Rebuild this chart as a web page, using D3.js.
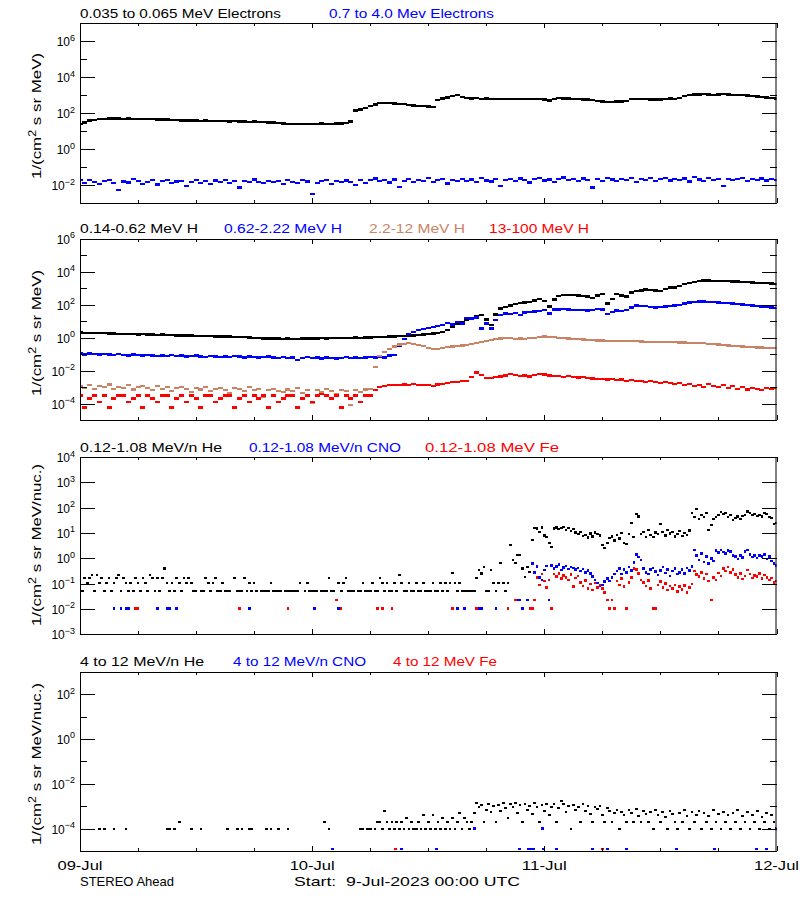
<!DOCTYPE html>
<html><head><meta charset="utf-8">
<script src="https://cdn.jsdelivr.net/npm/d3@7"></script>
<style>body{margin:0;background:#fff}text{font-family:"Liberation Sans",Arial,sans-serif}</style>
</head><body><svg id="c" width="800" height="900"></svg>
<script>
// ---------------- DATA (log10 of flux, 1/(cm2 s sr MeV[/nuc]) ) ----------------
// time axis in hours since 9-Jul-2023 00:00 UTC
const dayLabels = ["09-Jul","10-Jul","11-Jul","12-Jul"];
const stepHalf = 0.5;     // hours between samples of the half-hour series
const stepQuarter = 0.25; // hours between samples of the quarter-hour series

// Panel 1: electrons (half-hour samples)
const elecLowLog = [
1.42,1.50,1.60,1.64,1.68,1.70,1.72,1.71,1.72,1.70,
1.71,1.69,1.70,1.68,1.67,1.68,1.66,1.65,1.66,1.63,
1.62,1.61,1.60,1.61,1.59,1.58,1.59,1.57,1.58,1.56,
1.57,1.55,1.56,1.54,1.55,1.53,1.54,1.52,1.52,1.50,
1.48,1.46,1.44,1.42,1.41,1.40,1.41,1.40,1.42,1.41,
1.43,1.41,1.42,1.44,1.43,1.45,1.55,2.15,2.22,2.30,
2.40,2.48,2.56,2.58,2.57,2.55,2.53,2.52,2.47,2.44,
2.42,2.40,2.37,2.35,2.75,2.82,2.88,2.97,3.02,2.92,
2.85,2.83,2.84,2.80,2.82,2.80,2.79,2.80,2.81,2.79,
2.78,2.78,2.79,2.80,2.81,2.80,2.76,2.71,2.80,2.85,
2.83,2.82,2.80,2.78,2.77,2.76,2.73,2.70,2.66,2.63,
2.64,2.66,2.65,2.70,2.78,2.81,2.80,2.78,2.77,2.76,
2.76,2.80,2.82,2.79,2.86,2.95,3.02,3.04,3.05,3.07,
3.05,3.02,3.05,3.06,3.04,3.03,3.02,3.03,3.00,2.97,
2.93,2.90,2.88,2.84,2.82];
const elecHighLog = [
-1.72,-1.86,-1.70,-1.80,-1.93,-1.76,-1.69,-1.88,-2.28,-1.79,
-1.84,-1.67,-1.75,-1.91,-1.80,-1.72,-1.96,-1.78,-1.71,-1.87,
-1.79,-1.74,-2.06,-1.82,-1.70,-1.85,-1.76,-1.93,-1.73,-1.81,
-1.71,-1.88,-1.78,-2.12,-1.75,-1.83,-1.68,-1.80,-1.89,-1.74,
-1.82,-1.77,-1.94,-1.72,-1.81,-1.87,-1.70,-1.79,-2.50,-1.85,
-1.76,-1.69,-1.91,-1.75,-1.83,-1.73,-1.80,-1.99,-1.70,-1.86,
-1.72,-1.62,-1.78,-1.70,-1.84,-1.68,-2.08,-1.74,-1.64,-1.80,
-1.69,-1.75,-1.61,-1.83,-1.72,-1.66,-1.90,-1.71,-1.77,-1.63,
-1.74,-1.68,-1.82,-1.60,-1.73,-1.79,-1.67,-2.02,-1.71,-1.65,
-1.76,-1.62,-1.70,-1.84,-1.66,-1.58,-1.73,-1.68,-1.80,-1.64,
-1.57,-1.71,-1.66,-1.78,-1.62,-1.69,-2.12,-1.65,-1.74,-1.60,
-1.68,-1.76,-1.63,-1.70,-1.59,-1.82,-1.67,-1.72,-1.61,-1.75,
-1.66,-1.58,-1.73,-1.64,-1.70,-1.62,-1.79,-1.56,-1.68,-1.74,
-1.61,-1.69,-1.65,-2.05,-1.63,-1.71,-1.67,-1.60,-1.76,-1.64,
-1.70,-1.62,-1.73,-1.66,-1.69];

// Panel 2: protons (half-hour samples)
const hLowLog = [
0.30,0.28,0.29,0.27,0.26,0.27,0.25,0.24,0.22,0.23,
0.21,0.20,0.19,0.20,0.18,0.17,0.16,0.17,0.15,0.14,
0.13,0.12,0.13,0.11,0.10,0.09,0.10,0.08,0.07,0.06,
0.05,0.06,0.04,0.03,0.02,0.00,-0.02,-0.03,-0.05,-0.06,
-0.05,-0.07,-0.08,-0.06,-0.08,-0.09,-0.07,-0.06,-0.05,-0.06,
-0.04,-0.05,-0.04,-0.03,-0.04,-0.02,-0.03,-0.01,-0.02,0.00,
0.00,0.02,0.03,0.04,0.05,0.06,0.08,0.10,0.12,0.13,
0.15,0.17,0.20,0.24,0.28,0.33,0.45,0.65,0.85,0.92,
1.05,1.20,1.30,1.35,1.10,0.75,1.40,1.75,1.85,1.95,
2.02,2.08,2.12,2.15,2.25,2.35,2.20,1.88,2.30,2.52,
2.56,2.58,2.57,2.55,2.52,2.48,2.38,2.55,2.62,2.05,
2.35,2.62,2.55,2.48,2.72,2.82,2.86,2.90,2.88,2.86,
2.82,2.95,3.02,3.03,3.12,3.24,3.30,3.36,3.42,3.46,
3.45,3.44,3.42,3.44,3.42,3.40,3.39,3.37,3.35,3.34,
3.32,3.31,3.29,3.28,3.26];
const hMidLog = [
-0.98,-1.02,-0.96,-1.00,-1.04,-0.99,-1.03,-1.06,-1.01,-1.05,
-1.08,-1.03,-1.07,-1.10,-1.05,-1.09,-1.12,-1.08,-1.11,-1.06,
-1.13,-1.10,-1.15,-1.12,-1.09,-1.14,-1.17,-1.12,-1.15,-1.19,
-1.14,-1.18,-1.13,-1.16,-1.20,-1.15,-1.18,-1.22,-1.17,-1.14,
-1.20,-1.23,-1.18,-1.25,-1.21,-1.38,-1.24,-1.19,-1.26,-1.22,
-1.27,-1.20,-1.24,-1.28,-1.23,-1.19,-1.25,-1.21,-1.26,-1.22,
-1.18,-1.22,-1.15,-1.20,-1.10,-1.05,-0.50,-0.10,0.22,0.35,
0.45,0.52,0.58,0.62,0.68,0.75,0.88,0.80,0.95,0.85,
1.20,1.15,1.22,0.55,0.85,0.55,1.05,1.35,1.45,1.42,
1.48,1.38,1.52,1.56,1.58,1.62,1.66,1.45,1.70,1.70,
1.71,1.70,1.68,1.66,1.65,1.64,1.66,1.72,1.70,1.42,
1.55,1.64,1.62,1.68,1.82,1.95,1.92,1.90,1.86,1.82,
1.84,1.88,1.90,1.94,1.98,2.05,2.12,2.15,2.17,2.18,
2.16,2.14,2.12,2.10,2.08,2.05,2.02,2.00,1.96,1.93,
1.90,1.87,1.84,1.81,1.78];
const hHighLog = [
-2.95,-3.05,-2.88,-3.10,-2.92,-3.00,-2.85,-3.12,-2.98,-3.04,
-2.90,-3.15,-3.02,-2.94,-3.08,-3.20,-2.96,-3.10,-3.01,-3.25,
-3.05,-2.98,-3.12,-3.30,-3.06,-3.15,-3.00,-3.22,-3.10,-3.05,
-3.18,-3.35,-3.08,-3.14,-3.26,-3.02,-3.20,-3.12,-3.60,-3.18,
-3.10,-3.24,-3.30,-3.15,-3.22,-3.08,-3.35,-3.20,-3.95,-3.16,
-3.28,-3.12,-3.22,-3.40,-3.18,-3.25,-4.10,-3.20,-3.30,-3.15,
-3.10,-1.80,-1.10,-0.88,-0.70,-0.55,-0.42,-0.37,-0.35,-0.38,
-0.45,-0.50,-0.62,-0.68,-0.70,-0.66,-0.58,-0.55,-0.50,-0.48,
-0.47,-0.40,-0.32,-0.25,-0.20,-0.16,-0.10,-0.06,-0.04,-0.05,
-0.07,-0.06,-0.08,-0.05,-0.02,0.04,0.06,0.05,0.02,-0.01,
-0.04,-0.06,-0.08,-0.10,-0.12,-0.14,-0.16,-0.18,-0.18,-0.20,
-0.19,-0.20,-0.21,-0.22,-0.22,-0.23,-0.24,-0.25,-0.26,-0.26,
-0.27,-0.28,-0.29,-0.29,-0.30,-0.30,-0.31,-0.32,-0.33,-0.35,
-0.37,-0.39,-0.42,-0.45,-0.48,-0.50,-0.52,-0.54,-0.56,-0.58,
-0.60,-0.61,-0.63,-0.64,-0.65];
const hVeryHighLog = [
-3.52,-4.24,-3.70,-3.52,-3.93,-3.52,-4.24,-3.70,-3.52,-3.52,
-3.93,-3.70,-3.52,-4.24,-3.52,-3.70,-3.93,-3.52,-3.52,-4.24,
-3.70,-3.52,-3.93,-3.52,-3.70,-4.24,-3.52,-3.52,-3.93,-3.70,
-3.52,-3.52,-4.24,-3.70,-3.52,-3.93,-3.52,-3.70,-3.52,-4.24,
-3.52,-3.93,-3.70,-3.52,-3.52,-4.24,-3.70,-3.52,-3.93,-3.52,
-3.40,-3.52,-3.70,-3.52,-4.24,-3.52,-3.70,-3.52,-3.93,-3.52,
-3.52,-3.20,-3.02,-2.95,-2.90,-2.86,-2.88,-2.85,-2.87,-2.84,
-2.88,-2.90,-2.86,-2.92,-2.85,-2.82,-2.76,-2.72,-2.70,-2.66,
-2.62,-2.40,-2.12,-2.25,-2.45,-2.44,-2.40,-2.36,-2.30,-2.22,
-2.28,-2.32,-2.30,-2.36,-2.28,-2.22,-2.24,-2.30,-2.32,-2.35,
-2.37,-2.33,-2.38,-2.42,-2.40,-2.46,-2.48,-2.52,-2.50,-2.55,
-2.52,-2.58,-2.55,-2.62,-2.58,-2.65,-2.62,-2.70,-2.66,-2.72,
-2.74,-2.70,-2.78,-2.82,-2.76,-2.88,-2.82,-2.92,-2.86,-2.98,
-2.84,-2.95,-3.02,-2.90,-3.05,-2.96,-3.10,-3.00,-3.15,-3.05,
-3.12,-3.20,-3.08,-3.14,-3.06];

// Panel 3: 0.12-1.08 MeV/n ions (quarter-hour samples)
const heLowLog = [
-0.98,-1.28,-0.79,-0.98,-0.79,-0.66,-1.28,-0.66,-0.98,-0.79,
-1.28,-0.98,-0.79,-1.28,-0.98,-0.79,-0.66,-1.28,-0.79,-0.98,
-1.28,-0.98,-1.28,-0.79,-0.98,-1.28,-0.79,-0.98,-1.28,-0.66,
-0.79,-1.28,-0.79,-1.28,-0.79,-0.40,-0.98,-1.28,-0.98,-1.28,
-0.79,-0.98,-1.28,-0.79,-0.98,-0.79,-0.98,-1.28,-1.28,null,
-1.28,-1.28,-0.79,-0.98,-1.28,-0.98,-0.79,-1.28,-1.28,-0.98,
-1.28,-1.28,-1.28,null,-0.79,-1.28,-1.28,-1.28,-0.79,-1.28,
-0.98,-1.28,-0.98,-1.28,null,-1.28,-1.28,-1.28,-1.28,-0.98,
-1.28,-1.28,-1.28,-1.28,null,-1.28,-1.28,-1.28,-1.28,-1.28,
-1.28,-0.98,null,-1.28,-0.98,-1.28,-1.28,-1.28,-1.28,null,
-1.28,-1.28,-1.28,-0.79,-1.28,-1.28,null,-0.98,-1.28,-0.98,
-0.79,-1.28,-1.28,-1.28,null,-1.28,-1.28,-0.98,-1.28,-1.28,
-1.28,-0.98,-1.28,-1.28,-0.79,-0.98,-1.28,-0.98,-1.28,-1.28,
-0.98,-1.28,-0.66,-0.98,-1.28,-1.28,-0.98,-1.28,-1.28,-0.98,
-1.28,-1.28,-0.98,-1.28,-1.28,-1.28,-0.98,-1.28,-1.28,-0.98,
-1.28,-0.98,-1.28,-0.98,-0.58,-0.98,-1.28,-0.98,-1.28,-1.28,
-1.28,-1.28,-1.28,-1.28,-0.79,-0.45,-0.60,-0.33,-1.28,-1.28,
-0.45,-0.98,-1.28,-0.98,-0.19,-0.98,-1.28,-0.98,0.53,-0.07,
-0.20,0.13,0.13,-0.40,-0.73,-0.33,-0.55,0.72,1.20,1.18,
1.05,1.22,0.90,0.84,0.60,0.45,1.18,1.22,1.15,1.20,
1.24,1.12,1.20,1.08,1.15,1.02,0.95,1.05,0.88,0.92,
0.82,0.98,0.86,1.02,0.96,0.90,0.52,0.42,0.62,0.80,
0.86,0.70,0.92,0.78,1.00,0.62,0.58,0.95,1.39,0.84,
1.75,1.65,0.96,1.05,0.84,1.12,0.92,0.85,1.02,0.95,
1.35,1.05,0.90,1.12,0.98,1.05,0.86,0.96,1.08,0.88,
1.00,0.92,1.10,1.80,1.62,1.95,1.55,1.72,1.62,1.78,
1.12,1.30,1.55,1.62,1.70,1.82,1.75,1.80,1.62,1.70,
1.50,1.58,1.65,1.55,1.68,1.72,1.85,1.78,1.70,1.75,
1.68,1.72,1.65,1.78,1.75,1.62,1.58,1.35,1.40];
const cnoLowLog = [
null,null,null,null,null,null,null,null,null,null,
null,null,null,null,-1.975,null,null,-1.975,null,-1.975,
-1.975,null,null,null,null,null,null,null,null,null,
null,null,-1.975,null,null,null,-1.975,-1.975,null,null,
-1.975,null,null,null,null,null,null,null,null,null,
null,null,null,null,null,null,null,null,null,null,
null,null,null,null,null,null,null,null,null,null,
-1.975,null,null,null,null,null,null,null,null,null,
null,null,null,null,null,null,null,null,null,null,
null,null,null,null,null,null,null,-1.975,null,null,
null,null,null,null,null,null,null,-1.975,null,null,
null,null,null,null,null,null,null,null,null,null,
null,null,null,null,null,null,null,null,null,null,
null,null,null,null,null,null,null,null,null,null,
null,null,null,null,null,null,null,null,null,null,
null,null,null,null,null,null,-1.975,null,null,-1.975,
null,null,null,null,null,-1.975,-1.975,null,null,null,
null,null,-1.975,null,null,null,null,-1.975,null,null,
null,-1.65,-1.65,-1.975,null,-1.65,null,-0.20,-0.55,-0.33,
-0.75,-0.86,-0.46,-0.30,-1.65,-0.28,-0.40,-0.33,-0.25,-0.46,
-0.36,-0.30,-0.42,-0.35,-0.38,-0.45,-0.38,-0.50,-0.42,-0.55,
-0.48,-0.60,-0.72,-0.85,-0.98,-1.10,-1.05,-0.92,-0.80,-0.90,
-0.75,-0.62,-0.50,-0.40,-0.62,-0.45,-0.55,-0.35,-0.48,-0.17,
0.15,0.05,-0.07,-0.40,-0.55,-0.62,-0.45,-0.38,-0.52,-0.66,
-0.48,-0.35,-0.58,-0.44,-0.70,-0.50,-0.40,-0.62,-0.55,-0.45,
-0.60,-0.38,-0.48,-0.33,0.33,0.10,-0.07,0.20,-0.15,0.06,
-0.20,0.00,-0.10,0.30,0.22,0.33,0.25,0.18,0.30,0.26,
0.12,0.06,-0.02,0.10,0.03,0.28,0.33,0.15,0.05,0.10,
0.02,0.12,0.06,0.15,-0.02,0.08,-0.10,-0.20,-0.28];
const feLowLog = [
null,null,null,null,null,null,null,null,null,null,
null,null,null,null,null,null,null,null,null,null,
null,null,null,-1.975,-1.975,null,null,null,null,null,
null,null,null,null,null,null,null,null,null,null,
null,null,null,null,null,null,null,null,null,null,
null,null,null,null,null,null,null,null,null,null,
null,null,null,null,null,null,-1.975,null,null,null,
null,null,null,null,null,null,null,null,null,null,
null,null,null,null,null,null,-1.975,null,null,null,
null,null,null,null,null,null,null,null,null,null,
null,null,null,null,null,null,-1.64,null,-1.975,null,
null,null,null,null,null,null,null,null,null,null,
null,null,null,-1.975,null,-1.975,null,null,null,-1.975,
null,null,null,null,null,null,null,null,null,null,
null,null,null,null,null,null,null,null,null,null,
null,null,null,null,-1.975,null,null,null,null,null,
null,null,null,null,-1.975,null,null,null,null,null,
null,null,null,null,null,null,null,-1.975,null,null,
-1.65,null,null,null,null,null,-1.975,-1.975,-1.65,-0.75,
-1.05,-0.62,-0.90,-1.15,-0.85,-1.975,-0.62,-0.72,-0.60,-0.80,
-0.68,-0.75,-0.85,-0.65,-1.12,-0.78,-0.70,-0.95,-1.10,-0.88,
-1.20,-1.02,-1.25,-0.98,-1.15,-1.05,-1.20,-1.35,-1.65,-1.975,
-1.65,-1.975,-0.90,-1.05,-0.80,-1.12,-1.975,-0.95,-0.75,-0.40,
-0.45,-0.60,-0.85,-0.95,-1.10,-0.88,-1.20,-1.975,-1.975,-1.05,
-0.92,-1.15,-1.00,-1.25,-1.10,-1.20,-1.05,-1.30,-1.12,-1.22,
-1.08,-1.35,-1.15,-1.02,-0.50,-0.65,-0.72,-0.55,-0.80,-0.62,
-0.90,-1.65,-0.75,-0.85,-0.58,-0.70,-0.40,-0.50,-0.35,-0.55,
-0.45,-0.65,-0.75,-0.60,-0.82,-0.70,-0.46,-0.62,-0.78,-0.68,
-0.72,-0.60,-0.80,-0.66,-0.75,-0.85,-0.78,-0.95,-0.90];

// Panel 4: 4-12 MeV/n ions
const heHighLog = [ // quarter-hour samples
null,null,null,null,null,null,null,null,-4,null,
-4,null,null,null,-4,null,null,null,null,-4,
null,null,null,null,null,null,null,null,null,null,
null,null,null,null,null,null,-4,-4,null,-4,
null,-3.7,null,null,null,null,-4,null,null,null,
-4,null,null,null,null,null,null,null,null,null,
null,-4,null,null,null,-4,null,-4,null,null,
-4,-4,null,null,null,null,null,-4,null,-4,
null,null,-4,null,null,null,-4,null,null,null,
null,null,null,null,null,null,null,null,null,null,
null,-3.7,null,-4,null,null,null,null,null,null,
null,null,null,null,null,null,-4,-4,null,-4,
-4,null,-4,-3.7,-3.7,-4,-3.22,-3.7,-4,-3.7,
-4,-3.7,-4,-3.7,-4,-3.52,-4,-3.7,-4,-4,
-3.7,-4,-3.4,-4,-3.7,-4,-3.4,-4,-3.7,-4,
-3.52,-4,-3.7,-4,-3.52,-4,-3.7,-3.3,-4,-3.52,
-3.7,-4,-3.7,-3.3,-2.85,-3.05,-2.95,-3.7,-3.15,-2.9,
-3.26,-3.0,-3.7,-2.95,-3.2,-2.88,-3.1,-3.52,-2.92,-3.05,
-2.88,-3.3,-2.96,-3.7,-2.9,-3.15,-2.98,-3.35,-2.86,-3.05,
-3.7,-2.95,-3.2,-2.92,-3.4,-3.02,-2.9,-3.7,-3.1,-2.76,
-2.92,-3.25,-3.0,-4,-2.95,-3.15,-3.05,-3.7,-2.92,-3.2,
-3.0,-3.35,-3.7,-3.05,-3.12,-2.98,-3.4,-3.7,-3.1,-3.22,
-3.7,-3.3,-3.15,-4,-3.25,-3.4,-3.7,-3.18,-3.3,-3.7,
-3.12,-3.45,-3.7,-3.22,-3.35,-3.7,-3.28,-4,-3.15,-3.4,
-3.7,-3.25,-3.48,-4,-3.2,-3.35,-3.7,-4,-3.3,-3.7,
-3.15,-3.42,-4,-3.25,-3.7,-3.38,-3.2,-4,-3.3,-3.7,
-3.45,-4,-3.18,-3.7,-3.35,-4,-3.25,-3.7,-3.4,-4,
-3.3,-3.7,-3.15,-4,-3.45,-3.7,-3.28,-4,-3.38,-3.7,
-3.22,-4,-3.5,-3.7,-3.3,-4,-3.4,-3.7,-4];
const cnoHighHours = [26.07,33.28,36.83,40.76,45.45,46.38,46.65,46.9,47.86,47.93,49.3,53.0,54.5,56.5,61.7,65.6,69.9,71.0,72.0];
const cnoHighLog   = [-4.92,-4.92,-4.92,-4.0,-4.92,-4.92,-4.92,-4.92,-4.0,-4.92,-4.92,-4.92,-4.92,-4.92,-4.92,-4.92,-4.92,-4.92,-4.0];
const feHighHours = [32.66,53.97];
const feHighLog   = [-4.92,-4.92];

// ---------------- LAYOUT ----------------
const svg = d3.select("#c");
const X0 = 80, X1 = 776.5;
const x = d3.scaleLinear().domain([0,72]).range([X0, X1]);
const C = {black:"#000000", blue:"#0000ff", brown:"#c98466", red:"#ff0000"};

const panels = [
 {top:23.3, bottom:203.3, dmin:-3, dmax:7, every:2, unit:"MeV)", tlen:126, tcy:116,
  legend:[["0.035 to 0.065 MeV Electrons",80,C.black,201],["0.7 to 4.0 Mev Electrons",329,C.blue,165]],
  series:[{grid:elecLowLog,step:stepHalf,col:C.black,w:5,h:2.4},{grid:elecHighLog,step:stepHalf,col:C.blue,w:5,h:2.2}]},
 {top:238.5, bottom:420, dmin:-5, dmax:6, every:2, unit:"MeV)", tlen:126, tcy:333,
  legend:[["0.14-0.62 MeV H",80,C.black,118],["0.62-2.22 MeV H",224,C.blue,118],["2.2-12 MeV H",369,C.brown,96],["13-100 MeV H",489,C.red,100]],
  series:[{grid:hLowLog,step:stepHalf,col:C.black,w:5,h:2.4},{grid:hMidLog,step:stepHalf,col:C.blue,w:5,h:2.4},
          {grid:hHighLog,step:stepHalf,col:C.brown,w:5,h:2.2},{grid:hVeryHighLog,step:stepHalf,col:C.red,w:5,h:2.2}]},
 {top:457, bottom:634.3, dmin:-3, dmax:4, every:1, unit:"MeV/nuc.)", tlen:162, tcy:545,
  legend:[["0.12-1.08 MeV/n He",80,C.black,142],["0.12-1.08 MeV/n CNO",249,C.blue,152],["0.12-1.08 MeV Fe",425,C.red,134]],
  series:[{grid:heLowLog,step:stepQuarter,col:C.black,w:2.7,h:2.2},{grid:cnoLowLog,step:stepQuarter,col:C.blue,w:2.6,h:2.6},
          {grid:feLowLog,step:stepQuarter,col:C.red,w:2.6,h:2.6}]},
 {top:671.7, bottom:851, dmin:-5, dmax:3, every:2, unit:"MeV/nuc.)", tlen:162, tcy:764,
  legend:[["4 to 12 MeV/n He",80,C.black,124],["4 to 12 MeV/n CNO",233,C.blue,133],["4 to 12 MeV Fe",393,C.red,104]],
  series:[{grid:heHighLog,step:stepQuarter,col:C.black,w:2.7,h:2},{hours:cnoHighHours,vals:cnoHighLog,col:C.blue,w:3,h:2.4},
          {hours:feHighHours,vals:feHighLog,col:C.red,w:3,h:2.4}]}
];

panels.forEach((p,pi)=>{
  const y = d3.scaleLog().domain([Math.pow(10,p.dmin), Math.pow(10,p.dmax)]).range([p.bottom, p.top]);
  const g = svg.append("g");
  const cid = "clip"+pi;
  svg.append("clipPath").attr("id",cid).append("rect")
     .attr("x",X0).attr("y",p.top).attr("width",X1-X0).attr("height",p.bottom-p.top);
  const dg = g.append("g").attr("clip-path",`url(#${cid})`);
  p.series.forEach(s=>{
    let pts;
    if (s.grid) pts = s.grid.map((v,i)=>({t:i*s.step, v})).filter(d=>d.v!==null);
    else pts = s.hours.map((t,i)=>({t, v:s.vals[i]}));
    dg.append("g").attr("fill",s.col).attr("shape-rendering","crispEdges")
      .selectAll("rect").data(pts).join("rect")
      .attr("x",d=>x(d.t)-s.w/2).attr("y",d=>y(Math.pow(10,d.v))-s.h/2)
      .attr("width",s.w).attr("height",s.h);
  });
  // frame
  g.append("rect").attr("x",X0+0.5).attr("y",Math.round(p.top)+0.5)
   .attr("width",X1-X0-1).attr("height",Math.round(p.bottom)-Math.round(p.top))
   .attr("fill","none").attr("stroke","#000").attr("stroke-width",1);
  const tk = g.append("g").attr("stroke","#000").attr("stroke-width",1).attr("shape-rendering","crispEdges");
  // y ticks
  for (let k=p.dmin;k<=p.dmax;k++){
    const yy = Math.round(y(Math.pow(10,k)))+0.5;
    const major = (k % p.every)===0;
    const L = major?15:7;
    tk.append("line").attr("x1",X0).attr("x2",X0+L).attr("y1",yy).attr("y2",yy);
    tk.append("line").attr("x1",X1-L).attr("x2",X1).attr("y1",yy).attr("y2",yy);
    if (major){
      const t = g.append("text").attr("x",75).attr("y",y(Math.pow(10,k))+5)
        .attr("text-anchor","end").attr("font-size",12).attr("fill","#000");
      t.append("tspan").text("10");
      t.append("tspan").attr("dy",-5.5).attr("font-size",9).text(k<0?("\u2212"+(-k)):String(k));
    }
  }
  // x ticks every 6 hours
  for (let h=0;h<=72;h+=6){
    const xx = Math.round(x(h))+0.5;
    const L = (h%24===0)?5:3;
    tk.append("line").attr("x1",xx).attr("x2",xx).attr("y1",p.bottom).attr("y2",p.bottom-L);
    tk.append("line").attr("x1",xx).attr("x2",xx).attr("y1",p.top).attr("y2",p.top+L);
  }
  // legend
  p.legend.forEach(([txt,lx,col,len])=>{
    g.append("text").attr("x",lx).attr("y",p.top-5.5).attr("font-size",13.5).attr("fill",col)
     .attr("textLength",len).attr("lengthAdjust","spacingAndGlyphs").text(txt);
  });
  // y title
  const tt = g.append("text").attr("transform",`translate(41,${p.tcy}) rotate(-90)`)
     .attr("text-anchor","middle").attr("font-size",13.5).attr("fill","#000")
     .attr("textLength",p.tlen).attr("lengthAdjust","spacingAndGlyphs");
  tt.append("tspan").text("1/(cm");
  tt.append("tspan").attr("dy",-5.5).attr("font-size",10).text("2");
  tt.append("tspan").attr("dy",5.5).text(" s sr "+p.unit);
});

// bottom date labels
dayLabels.forEach((d,i)=>{
  svg.append("text").attr("x",x(i*24)).attr("y",870).attr("text-anchor","middle")
     .attr("font-size",13.5).attr("textLength",45).attr("lengthAdjust","spacingAndGlyphs").text(d);
});
svg.append("text").attr("x",80).attr("y",886).attr("font-size",13.5)
   .attr("textLength",94).attr("lengthAdjust","spacingAndGlyphs").text("STEREO Ahead");
svg.append("text").attr("x",294).attr("y",886).attr("font-size",13.5)
   .attr("textLength",226).attr("lengthAdjust","spacingAndGlyphs").attr("xml:space","preserve").text("Start:  9-Jul-2023 00:00 UTC");
</script></body></html>
